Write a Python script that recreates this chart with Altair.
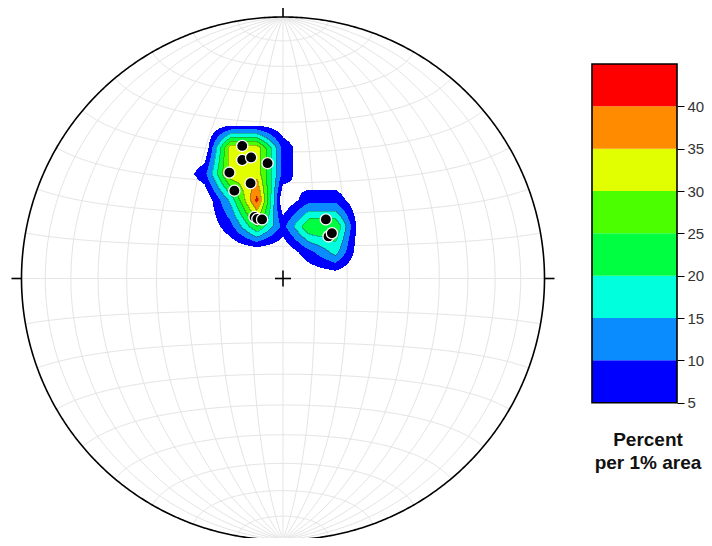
import numpy as np
import pandas as pd
import altair as alt

# ---------------- data ----------------
# poles, in Schmidt-net coordinates (east, north), net radius = 1
pole_east = [-0.156, -0.156, -0.122, -0.059, -0.205, -0.124, -0.186,
             -0.109, -0.098, -0.080, 0.164, 0.174, 0.187]
pole_north = [0.507, 0.453, 0.463, 0.441, 0.405, 0.364, 0.336,
              0.235, 0.228, 0.226, 0.226, 0.161, 0.173]
# number of measurements used for the percentages (peak just above 40 %)
n_measurements = 12

contour_levels = [5, 10, 15, 20, 25, 30, 35, 40]
contour_colors = ["#0000FF", "#0A8CFF", "#00FFDC", "#00FF40",
                  "#4CFF00", "#E1FF00", "#FF8C00", "#FF0000"]
legend_ticks = [5, 10, 15, 20, 25, 30, 35, 40]
legend_top = 45
legend_title = ["Percent", "per 1% area"]

# ---------------- layout ----------------
W, H = 696, 530
OFF = 8
CX, CY, R = 283.0, 278.5, 261.5
u_dom = [(OFF - CX) / R, (OFF + W - CX) / R]
v_dom = [(CY - (OFF + H)) / R, (CY - OFF) / R]
xs = alt.Scale(domain=u_dom, nice=False, zero=False)
ys = alt.Scale(domain=v_dom, nice=False, zero=False)
color_scale = alt.Scale(domain=contour_levels, range=contour_colors)

# ---------------- Schmidt net (equal-area, equatorial) ----------------
def proj(lam, phi):
    lam = np.radians(lam)
    phi = np.radians(phi)
    k = np.sqrt(2.0 / (1.0 + np.cos(phi) * np.cos(lam)))
    return (k * np.cos(phi) * np.sin(lam) / np.sqrt(2.0),
            k * np.sin(phi) / np.sqrt(2.0))

rows = []
lid = 0
for lam in range(-80, 81, 10):
    phi = np.linspace(-90, 90, 181)
    u, v = proj(np.full_like(phi, lam), phi)
    for k, (a, b) in enumerate(zip(u, v)):
        rows.append((lid, k, a, b))
    lid += 1
for ph in range(-80, 81, 10):
    lam = np.linspace(-90, 90, 181)
    u, v = proj(lam, np.full_like(lam, ph))
    for k, (a, b) in enumerate(zip(u, v)):
        rows.append((lid, k, a, b))
    lid += 1
net_df = pd.DataFrame(rows, columns=["line", "k", "u", "v"])

t = np.linspace(0, 2 * np.pi, 721)
prim_df = pd.DataFrame({"k": np.arange(len(t)), "u": np.cos(t), "v": np.sin(t)})

# ---------------- density: counts in 1% area circle on a 0.1 grid ----------------
g = 0.1
r_count = 0.1
pe = np.array(pole_east)
pn = np.array(pole_north)
nodes = np.round(np.arange(-1.0, 1.0 + 1e-9, g), 10)
NU, NV = np.meshgrid(nodes, nodes)
dist = np.sqrt((NU[..., None] - pe) ** 2 + (NV[..., None] - pn) ** 2)
pct = (dist <= r_count).sum(-1) / n_measurements * 100.0
nn = len(nodes) - 1

x_edges = np.arange(int(CX - R) - 2, int(CX + R) + 3)
y_edges = np.arange(int(CY - R) - 2, int(CY + R) + 3)
UU, VV = np.meshgrid((x_edges + 0.5 - CX) / R, (CY - (y_edges + 0.5)) / R)
fi = np.clip((UU + 1) / g, 0, nn - 1e-9)
fj = np.clip((VV + 1) / g, 0, nn - 1e-9)
i0 = np.floor(fi).astype(int)
j0 = np.floor(fj).astype(int)
tu = fi - i0
tv = fj - j0
val = ((1 - tu) * (1 - tv) * pct[j0, i0] + tu * (1 - tv) * pct[j0, i0 + 1]
       + (1 - tu) * tv * pct[j0 + 1, i0] + tu * tv * pct[j0 + 1, i0 + 1])
inside = UU ** 2 + VV ** 2 <= 1
band = np.where((val >= 5) & inside, np.minimum(np.floor(val / 5 + 1e-9) * 5, 40), 0).astype(int)

def runs(mask_row):
    out = []
    n = len(mask_row)
    i = 0
    while i < n:
        b = mask_row[i]
        k = i
        while k + 1 < n and mask_row[k + 1] == b:
            k += 1
        if b > 0:
            out.append((i, k, int(b)))
        i = k + 1
    return out

cells = []
for j, yy in enumerate(y_edges):
    for i, k, b in runs(band[j]):
        cells.append(dict(u0=(x_edges[i] - CX) / R, u1=(x_edges[k] + 1 - CX) / R,
                          v0=(CY - yy) / R, v1=(CY - yy - 1) / R, band=b))
cells_df = pd.DataFrame(cells)

# internal contour lines (pixels where band changes inside the contoured area)
edge = np.zeros_like(band)
left = np.zeros_like(band)
left[:, 1:] = band[:, :-1]
up = np.zeros_like(band)
up[1:, :] = band[:-1, :]
edge[(band > 5) & (left > 5) & (left != band)] = 1
edge[(band > 5) & (up > 5) & (up != band)] = 1
lines = []
for j, yy in enumerate(y_edges):
    for i, k, b in runs(edge[j]):
        lines.append(dict(u0=(x_edges[i] - CX) / R, u1=(x_edges[k] + 1 - CX) / R,
                          v0=(CY - yy) / R, v1=(CY - yy - 1) / R))
lines_df = pd.DataFrame(lines)

# ---------------- layers ----------------
X = lambda f: alt.X(f, scale=xs, axis=None)
Y = lambda f: alt.Y(f, scale=ys, axis=None)

grid = alt.Chart(net_df).mark_line(stroke="#e4e4e4", strokeWidth=1).encode(
    x=X("u:Q"), y=Y("v:Q"), detail="line:N", order="k:Q")

dens = alt.Chart(cells_df).mark_rect(strokeWidth=0).encode(
    x=X("u0:Q"), x2="u1:Q", y=Y("v0:Q"), y2="v1:Q",
    color=alt.Color("band:O", scale=color_scale, legend=None))

clines = alt.Chart(lines_df).mark_rect(color="#2a3a2a", opacity=0.35, strokeWidth=0).encode(
    x=X("u0:Q"), x2="u1:Q", y=Y("v0:Q"), y2="v1:Q")

prim = alt.Chart(prim_df).mark_line(stroke="black", strokeWidth=1.6).encode(
    x=X("u:Q"), y=Y("v:Q"), order="k:Q")

tk = 10.0 / R
ck = 8.0 / R
tick_df = pd.DataFrame({
    "u": [0, 0, -1, 1, -ck, 0],
    "v": [1, -1, 0, 0, 0, -ck],
    "u2": [0, 0, -1 - tk, 1 + tk, ck, 0],
    "v2": [1 + tk, -1 - tk, 0, 0, 0, ck],
})
ticks = alt.Chart(tick_df).mark_rule(color="black", strokeWidth=1.6).encode(
    x=X("u:Q"), y=Y("v:Q"), x2="u2:Q", y2="v2:Q")

pts_df = pd.DataFrame({"u": pole_east, "v": pole_north})
pts = alt.Chart(pts_df).mark_circle(size=125, color="black", stroke="white",
                                    strokeWidth=1.3, opacity=1).encode(
    x=X("u:Q"), y=Y("v:Q"))

# legend (own y scale): level 5 -> page y 402.7, level 45 -> page y 64
p5, p45 = 402.7 - OFF, 64.0 - OFF
D = (45 - 5) / ((H - p45) / H - (H - p5) / H)
d0 = 5 - (H - p5) / H * D
ly = alt.Scale(domain=[d0, d0 + D], nice=False, zero=False)
box_left = 592 - OFF
box_right = 677 - OFF
leg_axis = alt.Axis(orient="right", offset=-(W - box_right), values=legend_ticks,
                    domain=False, grid=False, tickSize=7, tickColor="black", tickWidth=1,
                    labelFontSize=15, labelColor="#333333", labelFont="Liberation Sans",
                    labelPadding=3, title=None, labelOverlap=False, labelBound=False,
                    labelFlush=False)
leg_df = pd.DataFrame({"lo": contour_levels,
                       "hi": contour_levels[1:] + [legend_top],
                       "band": contour_levels})
leg_bands = alt.Chart(leg_df).mark_rect(strokeWidth=0).encode(
    x=alt.value(box_left), x2=alt.value(box_right),
    y=alt.Y("lo:Q", scale=ly, axis=leg_axis), y2="hi:Q",
    color=alt.Color("band:O", scale=color_scale, legend=None))
box_df = pd.DataFrame({"lo": [contour_levels[0]], "hi": [legend_top]})
leg_box = alt.Chart(box_df).mark_rect(fillOpacity=0, stroke="black", strokeWidth=1.6).encode(
    x=alt.value(box_left), x2=alt.value(box_right),
    y=alt.Y("lo:Q", scale=ly, axis=leg_axis), y2="hi:Q")
legend = alt.layer(leg_bands, leg_box)

t1 = alt.Chart(pd.DataFrame({"t": [legend_title[0]]})).mark_text(
    align="center", baseline="alphabetic", fontSize=19, fontWeight="bold",
    font="Liberation Sans", color="#111111").encode(
    text="t:N", x=alt.value(648 - OFF), y=alt.value(446 - OFF))
t2 = alt.Chart(pd.DataFrame({"t": [legend_title[1]]})).mark_text(
    align="center", baseline="alphabetic", fontSize=19, fontWeight="bold",
    font="Liberation Sans", color="#111111").encode(
    text="t:N", x=alt.value(648 - OFF), y=alt.value(469 - OFF))

net = alt.layer(grid, dens, clines, prim, ticks, pts)

chart = alt.layer(net, legend, t1, t2).resolve_scale(y="independent").properties(
    width=W, height=H, padding=0,
    autosize=alt.AutoSizeParams(type="none"),
    background="white",
).configure_view(stroke=None)

chart.save("out.html", embed_options={"renderer": "svg", "actions": False})
